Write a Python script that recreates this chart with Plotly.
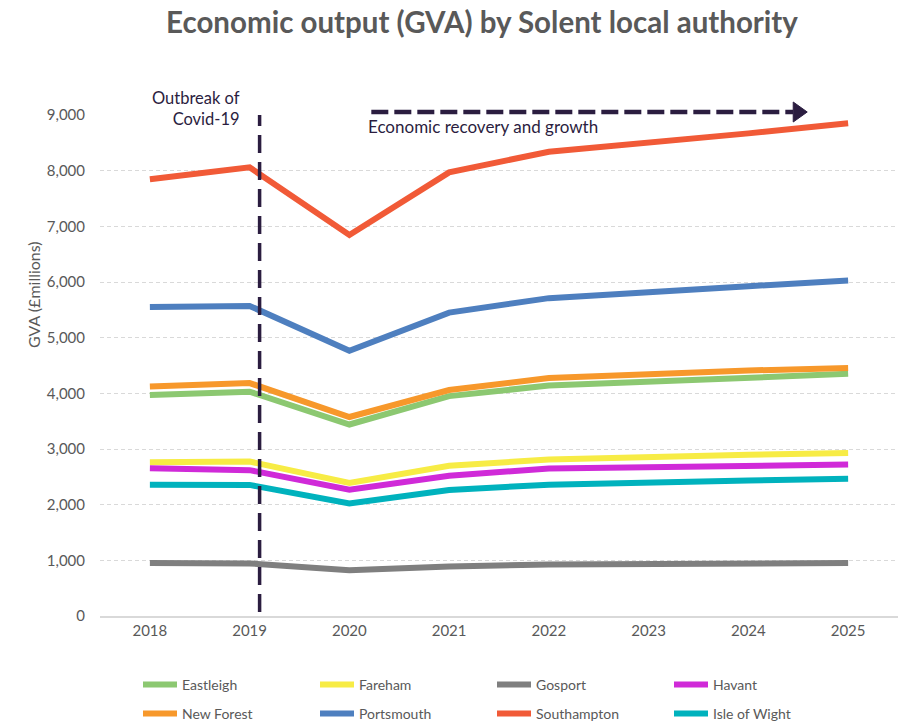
import plotly.graph_objects as go

years = ["2018", "2019", "2020", "2021", "2022", "2023", "2024", "2025"]

eastleigh = [3970, 4030, 3440, 3950, 4140, 4215, 4285, 4350]
fareham = [2760, 2775, 2390, 2700, 2810, 2860, 2895, 2930]
gosport = [950, 945, 820, 890, 927, 935, 950, 950]
havant = [2655, 2620, 2270, 2520, 2650, 2680, 2705, 2720]
new_forest = [4125, 4185, 3575, 4060, 4275, 4350, 4410, 4455]
portsmouth = [5550, 5570, 4765, 5450, 5710, 5825, 5925, 6025]
southampton = [7845, 8060, 6845, 7970, 8340, 8495, 8670, 8850]
isle_of_wight = [2360, 2355, 2020, 2265, 2360, 2405, 2435, 2465]

series_names = ["Eastleigh", "Fareham", "Gosport", "Havant",
                "New Forest", "Portsmouth", "Southampton", "Isle of Wight"]
series_values = [eastleigh, fareham, gosport, havant,
                 new_forest, portsmouth, southampton, isle_of_wight]
series_colors = ["#8CC871", "#F7EC45", "#7F7F7F", "#D02AD8",
                 "#F7982B", "#4E7FBF", "#F15A37", "#00B2BD"]

y_ticks = [0, 1000, 2000, 3000, 4000, 5000, 6000, 7000, 8000, 9000]
covid_x = 1.1          # just after 2019 on the category axis
recovery_start = 2.22
recovery_end = 6.59

FONT = "Lato"
DARK = "#2B1D40"
GREY = "#595959"

W, H = 901, 724
PLOT_TOP, PLOT_BOTTOM, PLOT_LEFT, PLOT_RIGHT = 115, 616, 100, 898
PH = PLOT_BOTTOM - PLOT_TOP
PW = PLOT_RIGHT - PLOT_LEFT


def py(pix):
    return (PLOT_BOTTOM - pix) / PH


def pxp(pix):
    return (pix - PLOT_LEFT) / PW


fig = go.Figure()
for i, (name, vals, col) in enumerate(zip(series_names, series_values, series_colors)):
    fig.add_trace(go.Scatter(
        x=years, y=vals, name=name, mode="lines",
        line=dict(color=col, width=6),
        legend="legend" if i < 4 else "legend2",
    ))

# covid vertical dashed line
fig.add_shape(type="line", xref="x", yref="y", x0=covid_x, x1=covid_x,
              y0=70, y1=9000, layer="above",
              line=dict(color=DARK, width=3.5, dash="18px,9px"))


# recovery arrow (paper coords)
def cat2paper(c):
    return (c + 0.5) / 8.0


ay = py(112)
tip = cat2paper(recovery_end)
base = tip - 14 / PW
fig.add_shape(type="line", xref="paper", yref="paper",
              x0=cat2paper(recovery_start), x1=base, y0=ay, y1=ay,
              line=dict(color=DARK, width=4.5, dash="17px,6px"))
fig.add_shape(type="path", xref="paper", yref="paper",
              path=f"M {base} {ay + 10 / PH} L {tip} {ay} L {base} {ay - 10 / PH} Z",
              fillcolor=DARK, line=dict(color=DARK, width=1))

fig.add_annotation(text="Outbreak of<br>Covid-19", xref="paper", yref="paper",
                   x=pxp(242), y=py(109), xanchor="right", yanchor="middle",
                   align="right", showarrow=False,
                   font=dict(family=FONT, size=16.5, color=DARK))
fig.add_annotation(text="Economic recovery and growth", xref="paper", yref="paper",
                   x=pxp(366), y=py(127), xanchor="left", yanchor="middle",
                   align="left", showarrow=False,
                   font=dict(family=FONT, size=17, color=DARK))
# y-axis title (placed as in the original, above the plot's mid-height)
fig.add_annotation(text="GVA (£millions)", xref="paper", yref="paper",
                   x=pxp(33), y=py(295), xanchor="center", yanchor="middle",
                   textangle=-90, showarrow=False,
                   font=dict(family=FONT, size=16, color=GREY))

legend_common = dict(orientation="h", xanchor="left", xref="container", yref="container",
                     entrywidth=128, entrywidthmode="pixels",
                     font=dict(family=FONT, size=14, color=GREY),
                     traceorder="normal", itemwidth=34, bgcolor="rgba(0,0,0,0)")

fig.update_layout(
    width=W, height=H,
    margin=dict(l=PLOT_LEFT, r=W - PLOT_RIGHT, t=PLOT_TOP, b=H - PLOT_BOTTOM),
    paper_bgcolor="white", plot_bgcolor="white",
    title=dict(text="<b>Economic output (GVA) by Solent local authority</b>",
               x=482 / W, xanchor="center", y=1 - 23 / H, yanchor="middle",
               font=dict(family=FONT, size=29.5, color=GREY)),
    font=dict(family=FONT, color=GREY),
    showlegend=True,
    legend=dict(x=138 / W, y=1 - 685 / H, yanchor="middle", **legend_common),
    legend2=dict(x=138 / W, y=1 - 714 / H, yanchor="middle", **legend_common),
    xaxis=dict(type="category", range=[-0.5, 7.5], showgrid=False, automargin=False,
               showline=True, linecolor="#D9D9D9", linewidth=1.5,
               ticks="", tickfont=dict(family=FONT, size=15, color=GREY)),
    yaxis=dict(range=[0, 9000], tickvals=y_ticks, tickformat=",d", automargin=False,
               showgrid=True, gridcolor="#D9D9D9", griddash="4px,3px", gridwidth=1,
               zeroline=False, showline=False, ticks="", ticklabelstandoff=14,
               tickfont=dict(family=FONT, size=15, color=GREY)),
)

fig.write_html(
    "out.html",
    config={"displayModeBar": False},
    post_script="document.body.style.margin='0';document.body.style.overflow='hidden';",
)
